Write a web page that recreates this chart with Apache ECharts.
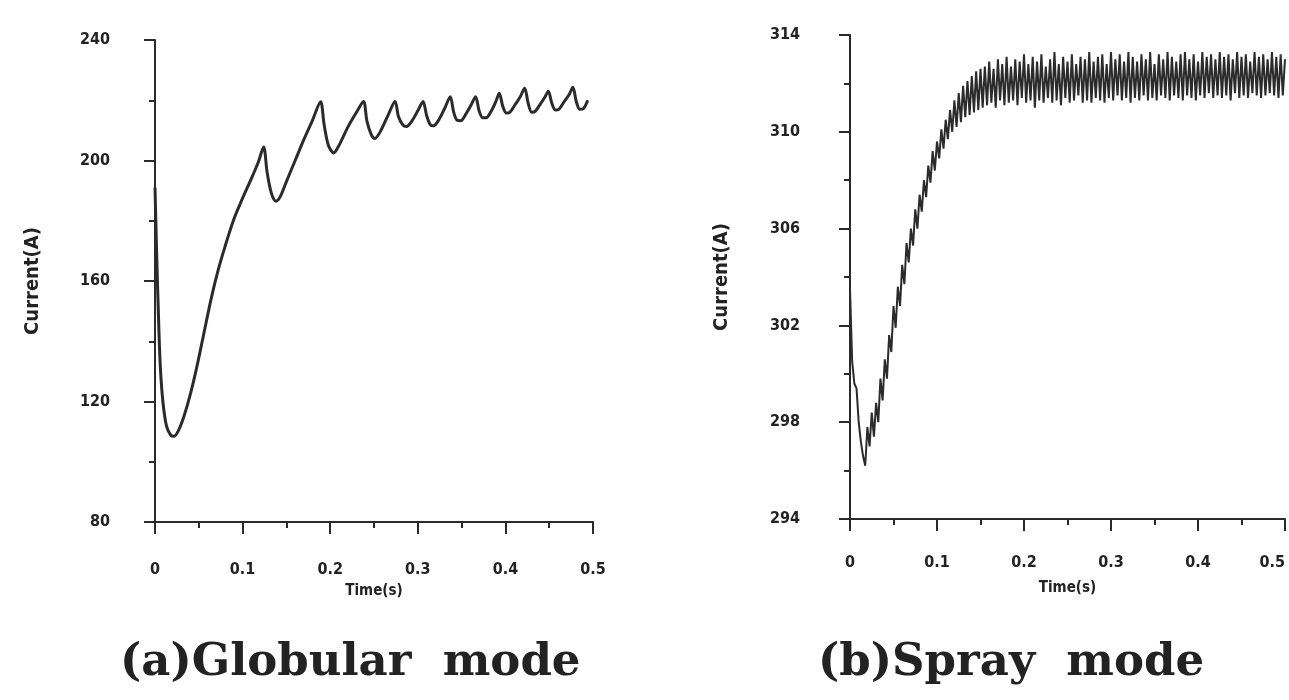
<!DOCTYPE html>
<html>
<head>
<meta charset="utf-8">
<script src="https://cdn.jsdelivr.net/npm/echarts@6/dist/echarts.min.js"></script>
<style>
  html, body { margin: 0; padding: 0; background: #ffffff; }
  #chart { width: 1289px; height: 700px; }
</style>
</head>
<body>
<div id="chart"></div>
<script>
// ---------- data ----------
const xTickLabels = ['0', '0.1', '0.2', '0.3', '0.4', '0.5'];
const globularYTicks = ['80', '120', '160', '200', '240'];
const sprayYTicks = ['294', '298', '302', '306', '310', '314'];

const globularTime = [
  0.000, 0.002, 0.004, 0.006, 0.009, 0.013, 0.018, 0.022, 0.027, 0.033,
  0.040, 0.047, 0.055, 0.064, 0.072, 0.080, 0.090, 0.100, 0.110, 0.118,
  0.124, 0.128, 0.133, 0.138, 0.143, 0.150, 0.160, 0.170, 0.180, 0.189,
  0.193, 0.198, 0.204, 0.210, 0.220, 0.230, 0.238, 0.242, 0.247, 0.251,
  0.257, 0.266, 0.274, 0.278, 0.283, 0.287, 0.293, 0.300, 0.306, 0.310,
  0.314, 0.318, 0.324, 0.331, 0.337, 0.341, 0.345, 0.349, 0.355, 0.361,
  0.366, 0.370, 0.374, 0.378, 0.384, 0.389, 0.393, 0.397, 0.401, 0.405,
  0.411, 0.417, 0.422, 0.426, 0.430, 0.434, 0.440, 0.445, 0.449, 0.453,
  0.457, 0.461, 0.467, 0.473, 0.477, 0.481, 0.485, 0.489, 0.494
];
const globularCurrent = [
  191, 168, 148, 132, 120, 112, 108.8, 108.5, 110.5, 115,
  122, 130.5, 141.5, 154, 163.5, 171.5, 180.5, 187.5, 194, 199.5,
  204.5, 196, 189, 186.5, 188, 193, 200, 207, 213.5, 219.5,
  212, 205, 202.5, 205, 211, 216, 219.6, 213, 208.5, 207.3,
  209.5, 215, 219.6, 214.5, 211.8, 211.3, 213, 216.5, 219.6, 215,
  212, 211.5, 213.5, 217.5, 221.2, 216, 213.3, 213.2, 215.5, 218.5,
  221.2, 216.5, 214.2, 214.2, 216.5, 219.5, 222.3, 218, 215.8, 216,
  218.5, 221.2, 224, 219, 216, 216.3, 218.8, 221, 223, 219,
  216.8, 217, 219.5, 222, 224.3, 219.5, 217, 217.2, 220
];

// spray mode: sampled every 2.5 ms from t = 0 s
const sprayStart = 0;
const spraySampleInterval = 0.0025;
const sprayCurrent = [
  303.5, 300.5, 299.6, 299.4, 298.0, 297.2, 296.6, 296.2, 297.8, 297.0,
  298.4, 297.4, 298.8, 298.0, 299.8, 298.9, 300.6, 299.8, 301.6, 300.9,
  302.8, 301.9, 303.6, 302.8, 304.5, 303.7, 305.4, 304.6, 306.0, 305.3,
  306.8, 306.0, 307.4, 306.7, 308.0, 307.3, 308.6, 307.9, 309.2, 308.4,
  309.6, 308.9, 310.1, 309.3, 310.5, 309.7, 310.9, 310.0, 311.3, 310.2,
  311.6, 310.4, 311.9, 310.6, 312.1, 310.7, 312.3, 310.8, 312.5, 310.9,
  312.6, 311.0,
  312.7, 311.1, 312.9, 311.2, 312.6, 311.0, 313.0, 311.3, 312.8, 311.1,
  313.1, 311.2, 312.7, 311.3, 313.0, 311.1, 312.9, 311.4, 313.2, 311.2,
  312.8, 311.3, 313.1, 311.0, 312.9, 311.3, 313.2, 311.2, 312.7, 311.4,
  313.0, 311.2, 313.3, 311.3, 312.8, 311.1, 313.1, 311.4, 312.9, 311.2,
  313.2, 311.3, 312.8, 311.5, 313.1, 311.2, 313.0, 311.3, 313.3, 311.2,
  312.9, 311.4, 313.1, 311.3, 313.2, 311.2, 312.8, 311.4, 313.3, 311.3,
  313.0, 311.5, 313.2, 311.3, 312.9, 311.4, 313.3, 311.2, 313.1, 311.4,
  312.9, 311.3, 313.2, 311.5, 313.0, 311.3, 313.3, 311.4, 312.8, 311.3,
  313.2, 311.5, 313.0, 311.4, 313.3, 311.3, 313.1, 311.5, 312.9, 311.4,
  313.2, 311.3, 313.3, 311.5, 313.0, 311.4, 313.2, 311.3, 312.9, 311.5,
  313.3, 311.4, 313.1, 311.6, 313.2, 311.4, 313.0, 311.5, 313.3, 311.4,
  313.1, 311.5, 313.2, 311.3, 313.0, 311.6, 313.3, 311.4, 313.1, 311.5,
  313.2, 311.4, 312.9, 311.6, 313.3, 311.5, 313.1, 311.4, 313.2, 311.5,
  313.0, 311.6, 313.3, 311.5, 313.1, 311.4, 313.2, 311.5, 313.0
];

const captions = ['(a)Globular  mode', '(b)Spray  mode'];
const xAxisTitle = 'Time(s)';
const yAxisTitle = 'Current(A)';

// ---------- build ----------
const globularData = globularTime.map((t, i) => [t, globularCurrent[i]]);
const sprayData = sprayCurrent.map((v, i) => [+(sprayStart + i * spraySampleInterval).toFixed(4), v]);

const ink = '#2b2b2b';
const labelFont = {
  color: '#222', fontWeight: 'bold', fontSize: 16,
  fontFamily: '"Liberation Sans Narrow", "DejaVu Sans Condensed", "Liberation Sans", sans-serif'
};

function xAxisCfg(gridIndex, margin, nameGap, alignMax) {
  return {
    type: 'value', gridIndex, min: 0, max: 0.5, interval: 0.1,
    name: xAxisTitle, nameLocation: 'middle', nameGap,
    nameTextStyle: Object.assign({}, labelFont, { fontSize: 15 }),
    axisLine: { show: true, lineStyle: { color: ink, width: 2 } },
    axisTick: { show: true, inside: false, length: 12, lineStyle: { color: ink, width: 2 } },
    minorTick: { show: true, splitNumber: 2, length: 6, lineStyle: { color: ink, width: 2 } },
    splitLine: { show: false },
    axisLabel: Object.assign({}, labelFont, {
      margin,
      alignMaxLabel: alignMax,
      formatter: (v) => xTickLabels[Math.round(v * 10)] ?? ''
    })
  };
}

function yAxisCfg(gridIndex, min, max, interval, ticks, margin, nameGap) {
  return {
    type: 'value', gridIndex, min, max, interval,
    name: yAxisTitle, nameLocation: 'middle', nameGap, nameRotate: 90,
    nameTextStyle: Object.assign({}, labelFont, { fontSize: 20 }),
    axisLine: { show: true, lineStyle: { color: ink, width: 2 } },
    axisTick: { show: true, inside: false, length: 11, lineStyle: { color: ink, width: 2 } },
    minorTick: { show: true, splitNumber: 2, length: 6, lineStyle: { color: ink, width: 2 } },
    splitLine: { show: false },
    axisLabel: Object.assign({}, labelFont, {
      margin,
      formatter: (v) => ticks[Math.round((v - min) / interval)] ?? ''
    })
  };
}

const chart = echarts.init(document.getElementById('chart'), null, { renderer: 'canvas' });
chart.setOption({
  backgroundColor: '#ffffff',
  animation: false,
  grid: [
    { left: 155, top: 40, width: 438, height: 482, outerBoundsMode: 'none', containLabel: false },
    { left: 850, top: 35, width: 435, height: 484, outerBoundsMode: 'none', containLabel: false }
  ],
  xAxis: [xAxisCfg(0, 40, 62, null), xAxisCfg(1, 36, 62, 'right')],
  yAxis: [
    yAxisCfg(0, 80, 240, 40, globularYTicks, 45, 112),
    yAxisCfg(1, 294, 314, 4, sprayYTicks, 50, 118)
  ],
  series: [
    {
      type: 'line', xAxisIndex: 0, yAxisIndex: 0, data: globularData,
      showSymbol: false, smooth: 0.3,
      lineStyle: { color: ink, width: 3 }
    },
    {
      type: 'line', xAxisIndex: 1, yAxisIndex: 1, data: sprayData,
      showSymbol: false, smooth: false,
      lineStyle: { color: ink, width: 2 }
    }
  ],
  graphic: [
    {
      type: 'text', left: 120, top: 641,
      style: {
        text: captions[0], fill: '#222',
        font: 'bold 45px "DejaVu Serif", "Liberation Serif", serif'
      }
    },
    {
      type: 'text', left: 818, top: 641,
      style: {
        text: captions[1], fill: '#222',
        font: 'bold 45px "DejaVu Serif", "Liberation Serif", serif'
      }
    }
  ]
});
</script>
</body>
</html>
